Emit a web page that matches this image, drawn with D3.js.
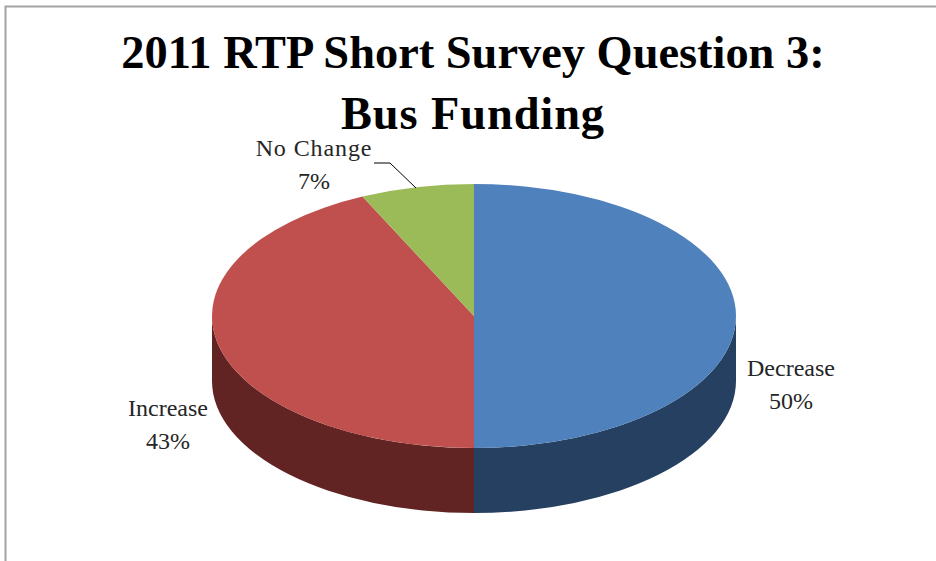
<!DOCTYPE html>
<html>
<head>
<meta charset="utf-8">
<script src="https://cdn.jsdelivr.net/npm/d3@7"></script>
<style>
  html, body { margin: 0; padding: 0; background: #fff; overflow: hidden; }
  text { font-family: "Liberation Serif", serif; fill: #262626; }
</style>
</head>
<body>
<svg class="chart"></svg>
<script>
let categories = ["Decrease", "Increase", "No Change"];
let values = [50, 43, 7];
let topColors = ["#4f81bd", "#c0504d", "#9bbb59"];
let wallColors = ["#264061", "#622423", "#4a5f2a"];
let titleLines = ["2011 RTP Short Survey Question 3:", "Bus Funding"];

let w = 936;
let h = 561;
let cx = 474;
let cy = 316;
let rx = 262;
let ry = 132;
let depth = 65;

// label centres, picked by eye
let labelPos = [[791, 376], [168, 416], [314, 156]];

var svg = d3.select(".chart")
            .attr("width", w)
            .attr("height", h)
            .style("display", "block");

// frame runs off the right and bottom of the picture
svg.append("path")
   .attr("d", "M5.5," + h + "V6.5H" + w)
   .attr("fill", "none")
   .attr("stroke", "#a3a3a3")
   .attr("stroke-width", 2);

svg.selectAll(".title")
   .data(titleLines)
   .enter().append("text")
   .attr("class", "title")
   .attr("x", 473)
   .attr("y", (d, i) => 68 + i * 61)
   .attr("text-anchor", "middle")
   .attr("font-size", "46.4px")
   .attr("font-weight", "bold")
   .attr("letter-spacing", (d, i) => i == 1 ? "0.9px" : null)
   .style("fill", "#000")
   .text(d => d);

var pie = d3.pie().sort(null);
var arcs = pie(values);

// point on the flattened circle, angle clockwise from the top
function px(a) { return cx + rx * Math.sin(a); }
function py(a) { return cy - ry * Math.cos(a); }

// only the part facing the viewer has a wall
function wallPath(a0, a1) {
  return "M" + px(a0) + "," + py(a0)
    + "A" + rx + "," + ry + " 0 0 1 " + px(a1) + "," + py(a1)
    + "v" + depth
    + "A" + rx + "," + ry + " 0 0 0 " + px(a0) + "," + (py(a0) + depth)
    + "Z";
}

svg.selectAll(".wall")
   .data(arcs.filter(d => d.endAngle > Math.PI / 2 && d.startAngle < Math.PI * 1.5))
   .enter().append("path")
   .attr("class", "wall")
   .attr("d", d => wallPath(Math.max(d.startAngle, Math.PI / 2), Math.min(d.endAngle, Math.PI * 1.5)))
   .attr("fill", d => wallColors[d.index]);

var arc = d3.arc().innerRadius(0).outerRadius(rx);

svg.append("g")
   .attr("transform", "translate(" + cx + "," + cy + ") scale(1," + (ry / rx) + ")")
   .selectAll("path")
   .data(arcs)
   .enter().append("path")
   .attr("d", arc)
   .attr("fill", d => topColors[d.index]);

// leader for the small slice
svg.append("path")
   .attr("d", "M374,163H390L416,188")
   .attr("fill", "none")
   .attr("stroke", "#000")
   .attr("stroke-width", 1);

var labels = svg.selectAll(".label")
   .data(categories)
   .enter().append("g")
   .attr("class", "label")
   .attr("transform", (d, i) => "translate(" + labelPos[i][0] + "," + labelPos[i][1] + ")")
   .attr("text-anchor", "middle")
   .attr("font-size", "24px");

labels.append("text")
   .attr("letter-spacing", d => d == "No Change" ? "0.9px" : null)
   .text(d => d);
labels.append("text").attr("y", 33).text((d, i) => values[i] + "%");
</script>
</body>
</html>
